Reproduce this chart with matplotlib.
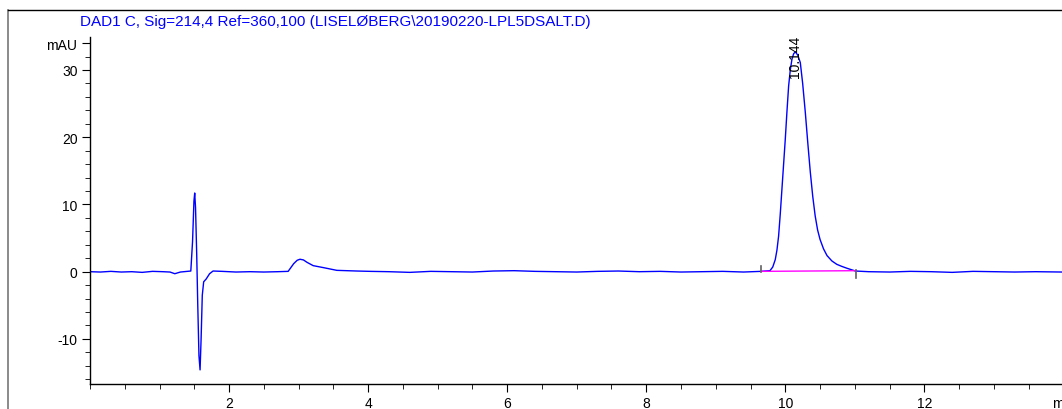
import matplotlib.pyplot as plt
from matplotlib.ticker import MultipleLocator, FixedLocator, FixedFormatter

plt.rcParams['font.family'] = ['Liberation Sans', 'DejaVu Sans']

title = "DAD1 C, Sig=214,4 Ref=360,100 (LISELØBERG\\20190220-LPL5DSALT.D)"

# signal (min, mAU)
time_min = [0.0, 0.15, 0.3, 0.45, 0.6, 0.75, 0.9, 1.05, 1.15, 1.22, 1.3, 1.4, 1.45,
            1.475, 1.495, 1.506, 1.518, 1.535, 1.55, 1.567, 1.583, 1.598, 1.615, 1.635,
            1.67, 1.72, 1.77, 1.9, 2.1, 2.3, 2.5, 2.7, 2.85, 2.93, 2.98, 3.02, 3.07,
            3.12, 3.21, 3.36, 3.55, 3.84, 4.03, 4.3, 4.6, 4.9, 5.2, 5.5, 5.8, 6.1, 6.4,
            6.7, 7.0, 7.3, 7.6, 7.9, 8.2, 8.5, 8.8, 9.1, 9.4, 9.65, 9.78, 9.82, 9.856,
            9.88, 9.904, 9.928, 9.952, 9.976, 10.0, 10.024, 10.048, 10.072, 10.096,
            10.12, 10.144, 10.18, 10.216, 10.25, 10.288, 10.325, 10.36, 10.395, 10.43,
            10.465, 10.5, 10.55, 10.6, 10.67, 10.74, 10.81, 10.89, 10.95, 11.01, 11.2,
            11.5, 11.8, 12.1, 12.4, 12.7, 13.0, 13.3, 13.6, 13.98]
signal = [0.0, -0.05, 0.05, -0.05, 0.0, -0.1, 0.05, 0.0, -0.05, -0.3, -0.05, 0.05, 0.1,
          4.5, 10.5, 11.7, 9.5, 2.5, -5.0, -12.5, -14.6, -10.0, -3.5, -1.5,
          -1.1, -0.3, 0.1, 0.05, -0.05, 0.0, -0.05, 0.0, 0.05, 1.2, 1.7, 1.85, 1.75,
          1.4, 0.9, 0.6, 0.2, 0.1, 0.05, 0.0, -0.1, 0.05, 0.0, -0.05, 0.1, 0.15, 0.05,
          0.0, -0.05, 0.05, 0.1, 0.0, 0.05, -0.05, 0.0, 0.05, -0.05, 0.05, 0.15, 0.7, 1.8,
          3.2, 5.3, 8.6, 12.3, 16.0, 19.7, 23.8, 27.6, 30.0, 31.6, 32.4, 32.7, 32.2,
          31.1, 28.0, 23.7, 19.0, 14.8, 11.2, 8.3, 6.2, 4.8, 3.4, 2.4, 1.6, 1.1, 0.8,
          0.5, 0.3, 0.1, 0.0, -0.05, 0.05, 0.0, -0.1, 0.05, 0.0, -0.05, 0.0, -0.05]

peak_rt = 10.144
peak_label = "10.144"
base_start = (9.65, 0.05)
base_end = (11.02, 0.15)

fig = plt.figure(figsize=(10.62, 4.10), dpi=100)
ax = fig.add_axes([90 / 1062, 25 / 410, 1 - 90 / 1062, 347 / 410])

ax.plot(time_min, signal, color='#0000ff', lw=1.0)
ax.plot([base_start[0], base_end[0]], [base_start[1], base_end[1]], color='#ff00ff', lw=1.0)
ax.plot([base_start[0], base_start[0]], [0.0, 0.9], color='#606060', lw=1.2)
ax.plot([base_end[0], base_end[0]], [0.3, -0.9], color='#606060', lw=1.2)
ax.text(peak_rt, 29.0, peak_label, rotation=90, ha='center', va='bottom', fontsize=10)

ax.set_xlim(0, 13.98)
ax.set_ylim(-16.7, 34.9)
for s in ['top', 'right']:
    ax.spines[s].set_visible(False)
ax.spines['left'].set_linewidth(1.0)
ax.spines['bottom'].set_linewidth(1.0)

ax.xaxis.set_major_locator(FixedLocator([2, 4, 6, 8, 10, 12]))
ax.xaxis.set_minor_locator(MultipleLocator(0.5))
ax.yaxis.set_major_locator(FixedLocator([-10, 0, 10, 20, 30, 34]))
ax.yaxis.set_major_formatter(FixedFormatter(['-10', '0', '10', '20', '30', 'mAU']))
ax.yaxis.set_minor_locator(MultipleLocator(2))
ax.tick_params(axis='both', which='major', length=6, labelsize=10, pad=3)
ax.tick_params(axis='both', which='minor', length=3.5)

# axis unit, cut off at the right edge as in the original export
fig.text(1052 / 1062, 1 - 404 / 410, "min", fontsize=10, va='center', ha='left')
fig.text(80 / 1062, 1 - 22 / 410, title, color='#0000ff', fontsize=11, va='center')

# outer frame lines
fig.add_artist(plt.Line2D([8 / 1062, 8 / 1062], [0, 1 - 11 / 410], color='#777777', lw=1.2))
fig.add_artist(plt.Line2D([8 / 1062, 1], [1 - 11 / 410, 1 - 11 / 410], color='black', lw=1.0))

fig.savefig('out.png', dpi=100)
